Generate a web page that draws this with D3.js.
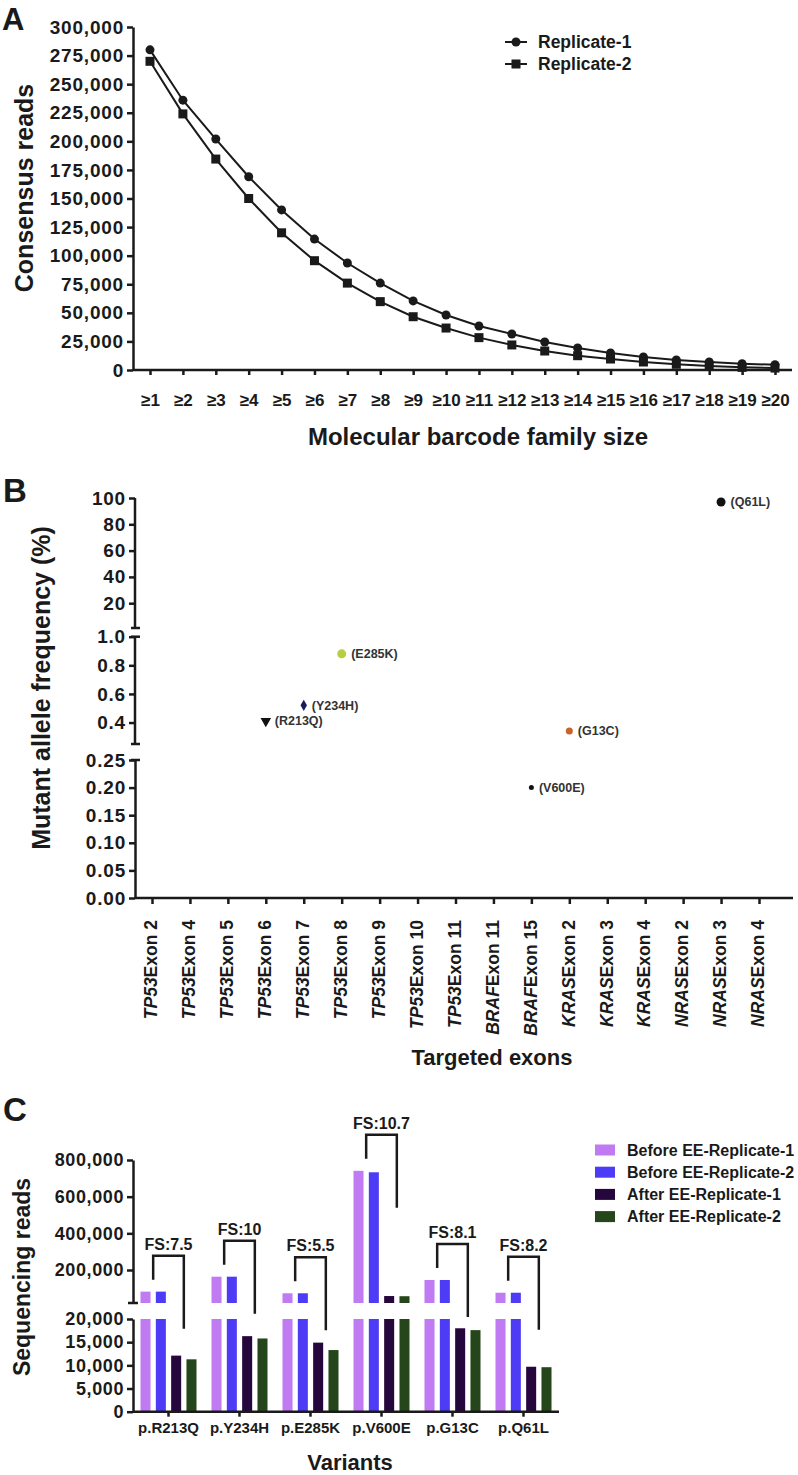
<!DOCTYPE html>
<html><head><meta charset="utf-8">
<script src="https://cdn.jsdelivr.net/npm/d3@7"></script>
<style>
body{margin:0;background:#fff;}
svg{display:block;font-family:"Liberation Sans",Arial,Helvetica,sans-serif;}
</style></head><body>
<svg id="chart" width="798" height="1475"></svg>
<script>
// ---------- Panel A data ----------
const familySizes = ["≥1","≥2","≥3","≥4","≥5","≥6","≥7","≥8","≥9","≥10","≥11","≥12","≥13","≥14","≥15","≥16","≥17","≥18","≥19","≥20"];
const replicate1 = [280000,236000,202000,169000,140000,114500,93600,76000,60400,48100,38500,31500,24500,19200,14900,11400,8700,7000,5500,4600];
const replicate2 = [270000,224000,184500,150000,120000,95600,76000,59800,46600,36700,28300,21900,16600,12500,9600,7000,5000,3500,2300,1700];
const seriesNamesA = ["Replicate-1","Replicate-2"];
const yTicksA = [0,25000,50000,75000,100000,125000,150000,175000,200000,225000,250000,275000,300000];

// ---------- Panel B data ----------
const exonGenes = ["TP53","TP53","TP53","TP53","TP53","TP53","TP53","TP53","TP53","BRAF","BRAF","KRAS","KRAS","KRAS","NRAS","NRAS","NRAS"];
const exonNumbers = ["2","4","5","6","7","8","9","10","11","11","15","2","3","4","2","3","4"];
const mutNames = ["R213Q","Y234H","E285K","V600E","G13C","Q61L"];
const mutExonIndex = [3,4,5,10,11,15];
const mutFreq = [0.41,0.52,0.88,0.20,0.34,97];
const mutColors = ["#111111","#1b1b5c","#b9cd40","#111111","#c8642a","#111111"];
const mutShapes = ["triangleDown","diamond","circle","circle","circle","circle"];
const mutSizes = [4,3,4.5,2.5,3.5,4.5];
const yTicksBTop = [20,40,60,80,100];
const yTicksBMid = [0.4,0.6,0.8,1.0];
const yTicksBLow = [0,0.05,0.10,0.15,0.20,0.25];

// ---------- Panel C data ----------
const variantsC = ["p.R213Q","p.Y234H","p.E285K","p.V600E","p.G13C","p.Q61L"];
const seriesNamesC = ["Before EE-Replicate-1","Before EE-Replicate-2","After EE-Replicate-1","After EE-Replicate-2"];
const beforeRep1 = [82000,163500,73000,741000,145500,76000];
const beforeRep2 = [82000,163500,73000,733000,145500,76000];
const afterRep1 = [12100,16300,14900,58000,18000,9700];
const afterRep2 = [11300,15800,13300,57000,17600,9600];
const foldShift = ["7.5","10","5.5","10.7","8.1","8.2"];
const seriesColorsC = ["#c07af2","#4d3bf5","#26073d","#25461a"];
const yTicksCTop = [200000,400000,600000,800000];
const yTicksCLow = [0,5000,10000,15000,20000];

const ink = "#1a1a1a";
const svg = d3.select("#chart");

function styleAxis(g, fs, ls){
  g.select(".domain").attr("stroke",ink).attr("stroke-width",2.5);
  g.selectAll(".tick line").attr("stroke",ink).attr("stroke-width",2.5);
  g.selectAll(".tick text").attr("fill",ink).attr("font-size",fs).attr("font-weight","bold")
    .attr("letter-spacing",ls||0).attr("font-family","'Liberation Sans',Arial,sans-serif");
}

// ================= PANEL A =================
const gA = svg.append("g");
gA.append("text").attr("x",2).attr("y",30).attr("font-size",31).attr("font-weight","bold").attr("fill",ink).text("A");
const xA = d3.scalePoint().domain(familySizes).range([150,775]);
const yA = d3.scaleLinear().domain([0,300000]).range([370,27]);

const yAxA = gA.append("g").attr("transform","translate(133,0)")
  .call(d3.axisLeft(yA).tickValues(yTicksA).tickFormat(d3.format(",")).tickSize(6).tickSizeOuter(0).tickPadding(3));
styleAxis(yAxA,19,0.8);
const xAxA = gA.append("g").attr("transform","translate(0,370)")
  .call(d3.axisBottom(xA).tickSize(5).tickPadding(19));
styleAxis(xAxA,17,0);
xAxA.select(".domain").remove();
gA.append("line").attr("x1",133).attr("x2",792).attr("y1",370).attr("y2",370).attr("stroke",ink).attr("stroke-width",2.5);

const lineA = d3.line().x((d,i)=>xA(familySizes[i])).y(d=>yA(d));
[replicate1,replicate2].forEach((s,k)=>{
  gA.append("path").datum(s).attr("d",lineA).attr("fill","none").attr("stroke",ink).attr("stroke-width",2);
});
gA.selectAll(".m1").data(replicate1).join("circle")
  .attr("cx",(d,i)=>xA(familySizes[i])).attr("cy",d=>yA(d)).attr("r",4.5).attr("fill",ink);
gA.selectAll(".m2").data(replicate2).join("rect")
  .attr("x",(d,i)=>xA(familySizes[i])-4.5).attr("y",d=>yA(d)-4.5).attr("width",9).attr("height",9).attr("fill",ink);

// legend A
seriesNamesA.forEach((n,k)=>{
  const y = 42 + k*22;
  gA.append("line").attr("x1",505).attr("x2",527).attr("y1",y).attr("y2",y).attr("stroke",ink).attr("stroke-width",2);
  if(k===0) gA.append("circle").attr("cx",516).attr("cy",y).attr("r",4.5).attr("fill",ink);
  else gA.append("rect").attr("x",511.5).attr("y",y-4.5).attr("width",9).attr("height",9).attr("fill",ink);
  gA.append("text").attr("x",538).attr("y",y).attr("dy","0.35em").attr("font-size",17.5).attr("font-weight","bold").attr("fill",ink).text(n);
});
gA.append("text").attr("transform","translate(33,188) rotate(-90)").attr("text-anchor","middle")
  .attr("font-size",25).attr("font-weight","bold").attr("fill",ink).text("Consensus reads");
gA.append("text").attr("x",478).attr("y",445).attr("text-anchor","middle")
  .attr("font-size",24).attr("font-weight","bold").attr("fill",ink).text("Molecular barcode family size");

// ================= PANEL B =================
const gB = svg.append("g");
gB.append("text").attr("x",3).attr("y",502).attr("font-size",33).attr("font-weight","bold").attr("fill",ink).text("B");
const exonKeys = exonGenes.map((g,i)=>g+"Exon "+exonNumbers[i]);
const xB = d3.scalePoint().domain(exonKeys).range([152,759]);
const yBTop = d3.scaleLinear().domain([0,100]).range([629.5,498]);
const yBMid = d3.scaleLinear().domain([0.25,1.0]).range([744,636.7]);
const yBLow = d3.scaleLinear().domain([0,0.25]).range([898,760]);
function yB(v){ return v<=0.25 ? yBLow(v) : (v<=1.0 ? yBMid(v) : yBTop(v)); }

const axTop = gB.append("g").attr("transform","translate(135,0)")
  .call(d3.axisLeft(yBTop).tickValues(yTicksBTop).tickFormat(d3.format("d")).tickSize(6).tickSizeOuter(0).tickPadding(3));
styleAxis(axTop,19,0.8);
axTop.select(".domain").attr("d","M0,498V628");
const axMid = gB.append("g").attr("transform","translate(135,0)")
  .call(d3.axisLeft(yBMid).tickValues(yTicksBMid).tickFormat(d3.format(".1f")).tickSize(6).tickSizeOuter(0).tickPadding(3));
styleAxis(axMid,19,0.8);
axMid.select(".domain").attr("d","M0,636.7V744");
const axLow = gB.append("g").attr("transform","translate(135,0)")
  .call(d3.axisLeft(yBLow).tickValues(yTicksBLow).tickFormat(d3.format(".2f")).tickSize(6).tickSizeOuter(0).tickPadding(3));
styleAxis(axLow,19,0.8);
// break caps
[628,636.7,744,760].forEach(y=>{
  gB.append("line").attr("x1",131).attr("x2",140).attr("y1",y).attr("y2",y).attr("stroke",ink).attr("stroke-width",2.5);
});
const xAxB = gB.append("g").attr("transform","translate(0,898)")
  .call(d3.axisBottom(xB).tickSize(6).tickFormat(""));
styleAxis(xAxB,17,0);
xAxB.select(".domain").remove();
gB.append("line").attr("x1",135).attr("x2",793).attr("y1",898).attr("y2",898).attr("stroke",ink).attr("stroke-width",2.5);
exonKeys.forEach((k,i)=>{
  const t = gB.append("text").attr("transform",`translate(${xB(k)},920) rotate(-90)`)
    .attr("text-anchor","end").attr("dy","0.3em").attr("font-size",17.5).attr("font-weight","bold").attr("fill",ink);
  t.append("tspan").attr("font-style","italic").text(exonGenes[i]);
  t.append("tspan").text("Exon "+exonNumbers[i]);
});
gB.append("text").attr("transform","translate(50,688) rotate(-90)").attr("text-anchor","middle")
  .attr("font-size",25).attr("font-weight","bold").attr("fill",ink).text("Mutant allele frequency (%)");
gB.append("text").attr("x",492).attr("y",1065).attr("text-anchor","middle")
  .attr("font-size",22).attr("font-weight","bold").attr("fill",ink).text("Targeted exons");

mutNames.forEach((n,i)=>{
  const cx = xB(exonKeys[mutExonIndex[i]]), cy = yB(mutFreq[i]), r = mutSizes[i];
  if(mutShapes[i]==="circle"){
    gB.append("circle").attr("cx",cx).attr("cy",cy).attr("r",r).attr("fill",mutColors[i]);
  } else if(mutShapes[i]==="diamond"){
    gB.append("path").attr("d",d3.symbol().type(d3.symbolDiamond).size(r*r*4)()).attr("transform",`translate(${cx},${cy})`).attr("fill",mutColors[i]);
  } else {
    gB.append("path").attr("d",d3.symbol().type(d3.symbolTriangle).size(r*r*3)()).attr("transform",`translate(${cx},${cy}) rotate(180)`).attr("fill",mutColors[i]);
  }
  gB.append("text").attr("x",cx+r+5).attr("y",cy).attr("dy","0.35em").attr("font-size",12.5).attr("font-weight","bold").attr("fill","#333").text("("+n+")");
});

// ================= PANEL C =================
const gC = svg.append("g");
gC.append("text").attr("x",3).attr("y",1121).attr("font-size",33).attr("font-weight","bold").attr("fill",ink).text("C");
const xC = d3.scaleBand().domain(variantsC).range([133,559]);
const xInner = d3.scaleBand().domain(seriesNamesC).range([-28,28]).paddingInner(0.346);
const yCTop = d3.scaleLinear().domain([20000,800000]).range([1303,1160]);
const yCLow = d3.scaleLinear().domain([0,20000]).range([1411.7,1319]);

const axCT = gC.append("g").attr("transform","translate(133,0)")
  .call(d3.axisLeft(yCTop).tickValues(yTicksCTop).tickFormat(d3.format(",")).tickSize(6).tickSizeOuter(0).tickPadding(3));
styleAxis(axCT,18,0.6);
const axCL = gC.append("g").attr("transform","translate(133,0)")
  .call(d3.axisLeft(yCLow).tickValues(yTicksCLow).tickFormat(d3.format(",")).tickSize(6).tickSizeOuter(0).tickPadding(3));
styleAxis(axCL,18,0.6);
gC.append("line").attr("x1",128).attr("x2",138).attr("y1",1303).attr("y2",1303).attr("stroke",ink).attr("stroke-width",2.5);

const seriesC = [beforeRep1,beforeRep2,afterRep1,afterRep2];
variantsC.forEach((v,i)=>{
  const gc = xC(v)+xC.bandwidth()/2;
  seriesC.forEach((s,k)=>{
    const val = s[i];
    const x = gc + xInner(seriesNamesC[k]);
    const w = xInner.bandwidth();
    if(val<=20000){
      gC.append("rect").attr("x",x).attr("width",w).attr("y",yCLow(val)).attr("height",yCLow(0)-yCLow(val)).attr("fill",seriesColorsC[k]);
    } else {
      gC.append("rect").attr("x",x).attr("width",w).attr("y",yCLow(20000)).attr("height",yCLow(0)-yCLow(20000)).attr("fill",seriesColorsC[k]);
      gC.append("rect").attr("x",x).attr("width",w).attr("y",yCTop(val)).attr("height",yCTop(20000)-yCTop(val)).attr("fill",seriesColorsC[k]);
    }
  });
  // fold-shift bracket
  const w = xInner.bandwidth();
  const xl = gc + (xInner(seriesNamesC[0])+xInner(seriesNamesC[1]))/2 + w/2;
  const xr = gc + (xInner(seriesNamesC[2])+xInner(seriesNamesC[3]))/2 + w/2;
  const topVal = Math.max(beforeRep1[i],beforeRep2[i]);
  const ty = (topVal>20000 ? yCTop(topVal) : yCLow(topVal)) - 36;
  gC.append("path").attr("d",`M${xl},${ty+24}V${ty}H${xr}V${ty+73}`).attr("fill","none").attr("stroke",ink).attr("stroke-width",2.5);
  gC.append("text").attr("x",(xl+xr)/2).attr("y",ty-6).attr("text-anchor","middle").attr("font-size",16).attr("font-weight","bold").attr("fill",ink).text("FS:"+foldShift[i]);
});

const xAxC = gC.append("g").attr("transform","translate(0,1411.7)")
  .call(d3.axisBottom(xC).tickSize(5).tickPadding(6));
styleAxis(xAxC,15,0);
xAxC.select(".domain").remove();
gC.append("line").attr("x1",133).attr("x2",559).attr("y1",1411.7).attr("y2",1411.7).attr("stroke",ink).attr("stroke-width",2.5);

seriesNamesC.forEach((n,k)=>{
  const y = 1150 + k*22.2;
  gC.append("rect").attr("x",595).attr("y",y-5.5).attr("width",20).attr("height",11).attr("fill",seriesColorsC[k]);
  gC.append("text").attr("x",627).attr("y",y).attr("dy","0.35em").attr("font-size",16).attr("font-weight","bold").attr("fill",ink).text(n);
});
gC.append("text").attr("transform","translate(30,1277) rotate(-90)").attr("text-anchor","middle")
  .attr("font-size",23).attr("font-weight","bold").attr("fill",ink).text("Sequencing reads");
gC.append("text").attr("x",350).attr("y",1470).attr("text-anchor","middle")
  .attr("font-size",22).attr("font-weight","bold").attr("fill",ink).text("Variants");
</script>
</body></html>
